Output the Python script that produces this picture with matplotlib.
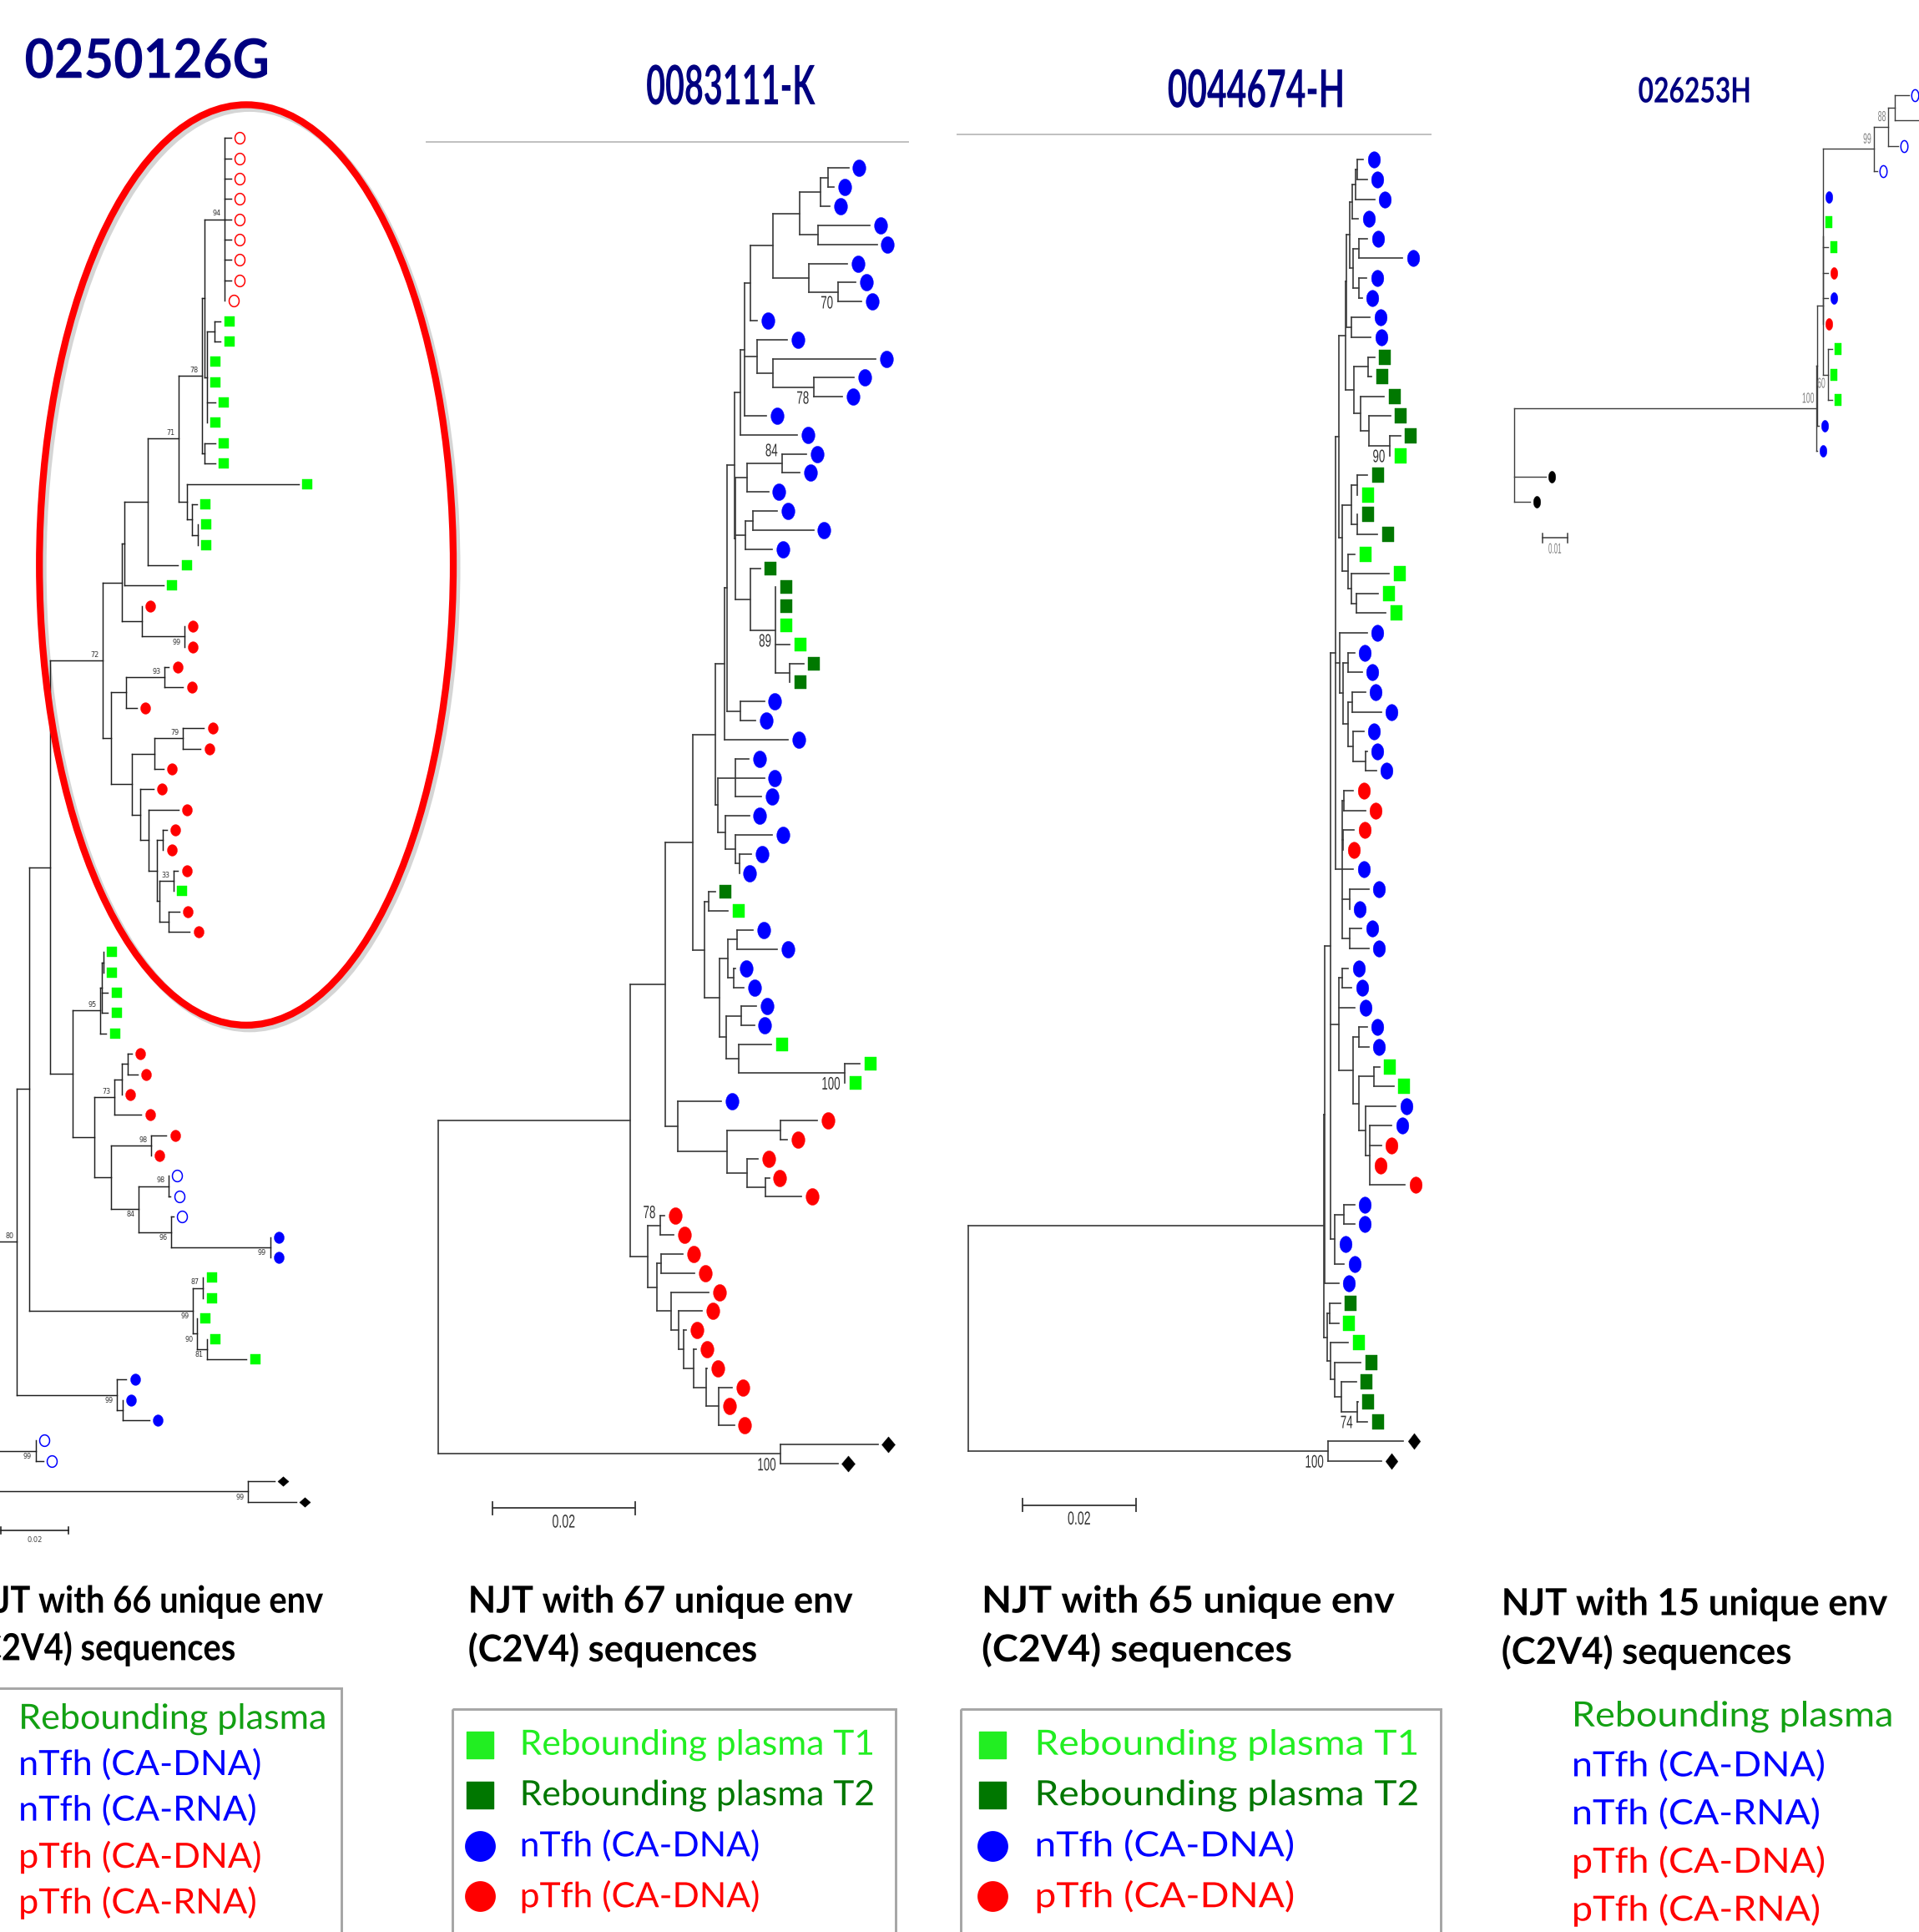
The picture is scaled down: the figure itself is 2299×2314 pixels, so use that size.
import numpy as np
import matplotlib
matplotlib.use("Agg")
import matplotlib.pyplot as plt
from matplotlib.path import Path
from matplotlib.patches import Ellipse, Rectangle
from matplotlib.collections import LineCollection
from matplotlib.patheffects import AbstractPathEffect
from matplotlib.transforms import Affine2D

# ---------------- data ----------------
patients = ["0250126G", "0083111-K", "0044674-H", "026253H"]
unique_env = [66, 67, 65, 15]
scale_bar = [0.02, 0.02, 0.02, 0.01]          # substitutions / site

# NJ trees (Newick), branch lengths in 1e-3 substitutions/site.
# leaves: L rebounding plasma (T1), D rebounding plasma T2, B nTfh CA-DNA,
#         b nTfh CA-RNA, R pTfh CA-DNA, r pTfh CA-RNA, K/k reference seqs
# internal labels are bootstrap values, a leading "v" = printed under the branch
tree_0250126G = """
(((((((((((((r:1.9,r:1.9,r:1.9,r:1.9,r:1.9,r:1.9,r:1.9,r:1.9,r:0)94:6.0,
((L:1.8,L:1.8):2.3,L:0,L:0,L:2.5,L:0):0.6):0.9,
(L:3.1,L:3.1):0.9)78:6.8,
(L:33.1,(L:1.6,(L:0,L:0):1.8):1.3):2.5)71:9.3,
L:9.1):6.8,
L:11.6):0.7,
(R:0,(R:0,R:0)v99:12.7):5.8):5.7,
(((R:1.4,R:5.6)93:11.4,R:3.3):4.3,
(((R:6.2,R:5.2)79:8.5,R:2.7):6.8,
(R:4.0,(R:8.9,((R:1.1,R:0):1.7,((R:1.4,L:0)33:4.1,(R:3.1,R:6.3):2.7):0.7):2.5):2.6):2.5):6.0):2.5)72:15.7,
((((L:0,L:0):0.5,L:1.9,L:1.9):0.4,L:1.8)95:8.1,
((((R:1.2,R:2.9):1.8,R:0):2.1,R:8.0)73:5.9,
((R:4.6,R:0)98:11.7,((b:0,b:0.7)98:8.9,(b:0.6,(B:0,B:0)v99:29.3)v96:9.8)v84:8.0):5.0):6.4):6.8):6.1,
((L:0,L:0)87:3.1,(L:0,(L:0,L:11.7)v81:3.0)v90:1.3)v99:48.4):3.7,
(B:2.8,(B:0,B:8.0):1.7)v99:29.6)80:11.4,
(b:0,b:2.3)v99:16.9):8.0,
(K:7.8,K:14.2)v99:88.0);
"""

tree_0083111K = """
(((((((((((((((B:2.9,B:0.9):1.0,B:1.3):2.9,(B:7.3,B:8.3):2.5):3.8,
(B:5.4,(B:2.5,B:3.3)v70:4.1):5.0):3.2,B:1.0):0.8,
(B:4.2,(B:14.4,(B:5.7,B:4.0)v78:5.7):2.2):1.8,B:3.1):0.6,B:8.0):0.8,
(((B:3.4,B:2.5)84:4.9,B:3.0):1.6,((B:3.4,B:8.5):1.0,B:3.7):1.4,
(D:1.3,(D:0,D:0,L:0,L:2.0,(D:1.9,D:0):2.0)v89:3.5):2.1):0.2):1.0,
(B:3.4,B:2.2):1.8):0.4,B:8.9):1.3,
((B:1.9,B:4.1,B:3.7):2.4,(B:3.3,(B:5.2,(B:1.7,B:0):0.6):1.3):1.1):0.4):3.1,
((D:0.9,L:2.7):0.6,(((B:2.2,B:5.6):1.3,(B:0.3,B:1.4):0.8):1.2,
((B:2.1,B:1.8):2.1,(L:4.6,(L:2.1,L:0)v100:14.9):1.7):1.0):2.1):1.6):3.9,
(B:6.1,((R:5.1,R:0.9):7.5,(R:1.5,(R:0.5,R:5.0):2.6):2.8):6.9):1.8):4.9,
((R:0.6,R:1.9)78:1.7,((R:3.1,R:4.7):0.6,(R:5.3,(R:3.3,(R:0.4,(R:0.4,
(R:0.2,(R:1.9,R:0,R:2.2):1.8):1.7):1.4):0.7):1.1):2.0):1.2):2.5):26.9,
(K:13.6,K:8.0)v100:48.0);
"""

tree_0044674H = """
((((((((((((B:1.0,B:1.7):0.3,B:3.3):0.6,B:1.1):0.4,
((B:1.5,B:7.7):1.0,(B:1.3,B:0.5):1.0):0.6):0.6,(B:3.3,B:3.5):0.8):0.2,
((D:1.1,D:0.6):2.5,(D:4.1,(D:3.8,(D:1.9,L:0)v90:3.7):1.4):1.2):1.5):1.2,
(((D:1.8,L:0):1.0,(D:0,D:3.5):1.0):1.6,(L:1.2,(L:6.6,(L:3.9,L:5.2):0.8):0.6):1.0):0.7):0.6,
(B:4.8,((B:1.2,B:2.5):0.8,((B:2.3,B:5.1):0.8,(B:1.8,(B:0.3,B:1.9):2.1):1.0):0.8):0.6):0.8,
((R:1.7,R:3.8):0.3,(R:1.9,R:0):0.2,B:2.0,(B:3.4,B:0):1.3,(B:2.1,B:3.4):1.3):1.2):0.8,
((B:1.0,B:1.6):0.6,B:2.8,((B:1.4,B:1.7):1.1,((L:1.0,L:3.5):2.6,
(B:5.4,(B:3.8,R:2.0,R:0,R:6.2):0.8):1.1):1.1):2.4):1.5,
((B:1.8,B:1.8):1.7,B:0,B:1.6):0.7):1.0,B:2.4):0.2,
((D:1.9,L:1.6):0.4,(L:3.1,(D:4.6,(D:2.6,(D:0.1,D:1.8)v74:2.8):1.2):0.7):0.6):0.6):62.7,
(K:13.2,K:9.3)v100:63.5);
"""

tree_026253H = """
((((((((b:6.0,b:17.4):2.5,b:4.0)88:5.9,b:1.4)99:20.8,B:0,L:0,L:2.0,R:2.0,B:2.0,R:0):0.05,
(L:1.9,L:0.2,L:1.9)v60:2.0):2.4,B:0.7):0.1,B:0.2)100:123.3,k:12.7,k:6.5);
"""

trees = [tree_0250126G, tree_0083111K, tree_0044674H, tree_026253H]

legend_0250126G = ["Rebounding plasma", "nTfh (CA-DNA)", "nTfh (CA-RNA)",
                   "pTfh (CA-DNA)", "pTfh (CA-RNA)"]
legend_two_times = ["Rebounding plasma T1", "Rebounding plasma T2",
                    "nTfh (CA-DNA)", "pTfh (CA-DNA)"]
legend_two_codes = ["L", "D", "B", "R"]

# ---------------- figure ----------------
W, H = 1558, 1568                 # layout units (figure is 2299 x 2314 px)
PX = 2299 / W                     # pixels per layout unit
PT = PX * 72 / 100                # points per layout unit

fig = plt.figure(figsize=(22.99, 23.14), dpi=100)
ax = fig.add_axes([0, 0, 1, 1])
ax.set_xlim(0, W)
ax.set_ylim(H, 0)
ax.axis("off")
renderer = fig.canvas.get_renderer()


class Squeeze(AbstractPathEffect):
    """draw text horizontally condensed (the original figure is stretched)"""

    def __init__(self, sx, anchor=0.5):
        super().__init__()
        self.sx, self.anchor = sx, anchor

    def draw_path(self, renderer, gc, tpath, affine, rgbFace=None):
        xs = tpath.vertices[:, 0]
        x0 = xs.min() + (xs.max() - xs.min()) * self.anchor if len(xs) else 0
        sq = Affine2D().translate(-x0, 0).scale(self.sx, 1).translate(x0, 0)
        renderer.draw_path(gc, tpath, sq + affine, rgbFace)


def put(x, y, s, size, width=None, squeeze=1.0, **kw):
    t = ax.text(x, y, s, fontsize=size, **kw)
    if width is not None:
        squeeze = width * PX / t.get_window_extent(renderer).width
    if abs(squeeze - 1) > 0.01:
        anchor = {"left": 0.0, "center": 0.5, "right": 1.0}[t.get_ha()]
        t.set_path_effects([Squeeze(squeeze, anchor)])
    return squeeze


def parse(s):
    s = "".join(s.split())
    pos = 0

    def clade():
        nonlocal pos
        node = {"kids": [], "len": 0.0}
        if s[pos] == "(":
            pos += 1
            node["kids"].append(clade())
            while s[pos] == ",":
                pos += 1
                node["kids"].append(clade())
            pos += 1
        start = pos
        while s[pos] not in ":,);":
            pos += 1
        node["name"] = s[start:pos]
        if s[pos] == ":":
            pos += 1
            start = pos
            while s[pos] not in ",);":
                pos += 1
            node["len"] = float(s[start:pos])
        return node

    return clade()


def place(node, x, count, c):
    node["x"] = x
    if node["kids"]:
        for k in node["kids"]:
            place(k, x + k["len"] * c["ppu"], count, c)
        node["y"] = (node["kids"][0]["y"] + node["kids"][-1]["y"]) / 2
    else:
        node["y"] = c["y0"] + c["dy"] * count[0]
        count[0] += 1


def shape(kind, a):
    if kind == "ell":
        t = np.linspace(0, 2 * np.pi, 49)
        v = np.column_stack([a * np.cos(t), np.sin(t)])
    elif kind == "rect":
        v = np.array([[-a, -1], [a, -1], [a, 1], [-a, 1], [-a, -1]])
    else:
        v = np.array([[0, -1], [a, 0], [0, 1], [-a, 0], [0, -1]])
    return Path(v, closed=True)


LEAF = {"L": ("rect", "#00ff00", "#00ff00"), "D": ("rect", "#007800", "#007800"),
        "B": ("ell", "#0000ff", "#0000ff"), "b": ("ell", "white", "#0000ff"),
        "R": ("ell", "#ff0000", "#ff0000"), "r": ("ell", "white", "#ff0000"),
        "K": ("dia", "black", "black"), "k": ("ell", "black", "black")}

cfg = [
    dict(x0=-39.2, y0=111.9, dy=16.52, ppu=2.735, off=7.0, lw=1.0, lc="#1e1e1e",
         ell=(0.87, 9.3), rect=(0.96, 7.8), dia=(1.15, 7.8),
         lab=dict(size=5.8, family="DejaVu Sans", color="#333333", sq=1.0, gx=3.0, gy=1.5),
         bar=(0.7, 1242.1, 3.0), bar_lab=(1250.0, 6.0, "#444444", None)),
    dict(x0=355.7, y0=136.5, dy=15.46, ppu=5.795, off=8.6, lw=1.15, lc="#3c3c3c",
         ell=(0.78, 13.6), rect=(0.82, 11.4), dia=(0.84, 13.0),
         lab=dict(size=15.5, family="Liberation Sans", color="#333333", sq=0.62, gx=3.5, gy=2.5),
         bar=(399.8, 1224.1, 5.0), bar_lab=(1236.0, 16.0, "#333333", 18.7)),
    dict(x0=786.1, y0=129.7, dy=16.0, ppu=4.605, off=8.6, lw=1.15, lc="#3c3c3c",
         ell=(0.75, 13.3), rect=(0.75, 12.3), dia=(0.76, 13.0),
         lab=dict(size=15.5, family="Liberation Sans", color="#333333", sq=0.62, gx=3.5, gy=2.5),
         bar=(830.2, 1221.5, 5.0), bar_lab=(1233.5, 16.0, "#333333", 18.7)),
    dict(x0=1229.6, y0=77.0, dy=20.65, ppu=1.99, off=4.8, lw=0.95, lc="#3c3c3c",
         ell=(0.6, 9.6), rect=(0.6, 9.3), dia=(0.6, 9.3),
         lab=dict(size=12.5, family="Liberation Sans", color="#808080", sq=0.5, gx=1.8, gy=2.5),
         bar=(1252.6, 436.7, 3.8), bar_lab=(446.0, 12.5, "#808080", 10.6)),
]

for i, (newick, c) in enumerate(zip(trees, cfg)):
    root = parse(newick)
    count = [0]
    place(root, c["x0"], count, c)
    assert count[0] == unique_env[i] + 2

    segs, leaves, boots = [], [], []
    stack = [root]
    while stack:
        n = stack.pop()
        if n["kids"]:
            ys = [k["y"] for k in n["kids"]]
            segs.append([(n["x"], ys[0]), (n["x"], ys[-1])])
            for k in n["kids"]:
                segs.append([(n["x"], k["y"]), (k["x"], k["y"])])
                stack.append(k)
            if n["name"]:
                boots.append((n["x"], n["y"], n["name"]))
        else:
            leaves.append((n["x"], n["y"], n["name"]))

    ax.add_collection(LineCollection(segs, colors=c["lc"], linewidths=c["lw"] * PT,
                                     capstyle="projecting", zorder=2))

    for code, (kind, fc, ec) in LEAF.items():
        pts = [(x, y) for x, y, nm in leaves if nm == code]
        if not pts:
            continue
        a, h = c[kind]
        xs, ys = np.array(pts).T
        ax.plot(xs + c["off"], ys, ls="none", marker=shape(kind, a),
                ms=h * PT * max(1, a), mfc=fc, mec=ec,
                mew=(1.1 if fc == "white" else 0.3), zorder=3)

    lb = c["lab"]
    for x, y, nm in boots:
        below = nm.startswith("v")
        put(x - lb["gx"], y + lb["gy"] if below else y - lb["gy"], nm.lstrip("v"),
            lb["size"], squeeze=lb["sq"], ha="right",
            va="top" if below else "bottom", family=lb["family"], color=lb["color"])

    bx, by, tick = c["bar"]
    blen = scale_bar[i] * 1000 * c["ppu"]
    ax.plot([bx, bx + blen], [by, by], color=c["lc"], lw=c["lw"] * PT * 1.1)
    ax.plot([bx, bx], [by - tick, by + tick], color=c["lc"], lw=c["lw"] * PT * 1.1)
    ax.plot([bx + blen, bx + blen], [by - tick, by + tick], color=c["lc"], lw=c["lw"] * PT * 1.1)
    ly, lsize, lcol, lw_ = c["bar_lab"]
    put(bx + blen / 2, ly, f"{scale_bar[i]:.2f}", lsize, width=lw_, ha="center",
        va="center", family=lb["family"], color=lcol)

# red ellipse around the plasma/pTfh clade of 0250126G
ax.add_patch(Ellipse((202.5, 461), 336, 747, fill=False, ec="#c4c4c4", lw=6.5 * PT,
                     alpha=0.7, zorder=1))
ax.add_patch(Ellipse((200, 458.5), 336, 747, fill=False, ec="#ff0000", lw=5.6 * PT, zorder=4))

# titles
NAVY = "#000080"
put(19.9, 63.2, patients[0], 46.9, width=199, ha="left", va="baseline",
    family="Lato", weight="bold", color=NAVY)
put(593, 84.7, patients[1], 46.9, width=137, ha="center", va="baseline",
    family="Lato", weight="bold", color=NAVY)
put(1020.5, 87.0, patients[2], 45.0, width=144, ha="center", va="baseline",
    family="Lato", weight="bold", color=NAVY)
put(1376, 83.1, patients[3], 30.0, width=91.5, ha="center", va="baseline",
    family="Lato", weight="bold", color=NAVY)
ax.plot([346.6, 737], [115.2, 115.2], color="#bfbfbf", lw=1.3 * PT)
ax.plot([777.3, 1161.6], [109.1, 109.1], color="#bfbfbf", lw=1.3 * PT)

# captions (the first panel is cut by the left edge, as in the original)
for i, (x, y1, y2, w) in enumerate([(-24, 1300, 1338, 287), (380, 1300, 1339, 313),
                                     (797, 1300, 1339, 336), (1219, 1302, 1341, 314)]):
    sq = put(x, y1, f"NJT with {unique_env[i]} unique env", 32, width=w, ha="left",
             va="center", family="Lato", weight="bold", color="black")
    put(x, y2, "(C2V4) sequences", 32, squeeze=sq, ha="left", va="center",
        family="Lato", weight="bold", color="black")

# legends
TXT = {"L": "#22ee22", "D": "#007700", "B": "#0000ff", "R": "#ff0000"}
one_time_cols = ["#13a013", "#0000ff", "#0000ff", "#ff0000", "#ff0000"]

ax.add_patch(Rectangle((-20, 1370), 297, 260, fill=False, ec="#a6a6a6", lw=2 * PT))
sq = None
for s, col, y in zip(legend_0250126G, one_time_cols, [1395, 1432, 1469, 1507, 1544]):
    if sq is None:
        sq = put(15, y, s, 30, width=250, ha="left", va="center", family="Lato", color=col)
    else:
        put(15, y, s, 30, squeeze=sq, ha="left", va="center", family="Lato", color=col)

sq = None
for s, col, y in zip(legend_0250126G, one_time_cols, [1393, 1433, 1472, 1511, 1550]):
    if sq is None:
        sq = put(1276, y, s, 30, width=261, ha="left", va="center", family="Lato", color=col)
    else:
        put(1276, y, s, 30, squeeze=sq, ha="left", va="center", family="Lato", color=col)

for bx0, bw, mx, tx, tw in [(367, 360, 390, 422, 288), (780, 390, 806, 840, 312)]:
    ax.add_patch(Rectangle((bx0, 1387), bw, 260, fill=False, ec="#a6a6a6", lw=2 * PT))
    sq = None
    for s, code, y in zip(legend_two_times, legend_two_codes, [1416, 1457, 1498, 1539]):
        kind, fc, ec = LEAF[code]
        ax.plot([mx], [y], ls="none", marker=shape(kind, 1.0),
                ms=(22 if kind == "rect" else 24) * PT, mfc=TXT[code], mec=TXT[code])
        if sq is None:
            sq = put(tx, y, s, 30, width=tw, ha="left", va="center", family="Lato",
                     color=TXT[code])
        else:
            put(tx, y, s, 30, squeeze=sq, ha="left", va="center", family="Lato",
                color=TXT[code])

fig.savefig("out.png", dpi=100)
